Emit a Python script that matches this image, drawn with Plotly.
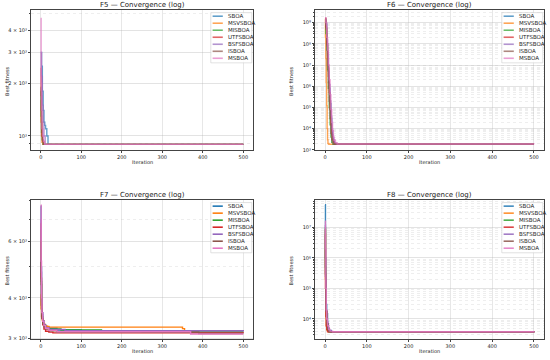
import plotly.graph_objects as go

# ---------------- data ----------------
names = ["SBOA", "MSVSBOA", "MISBOA", "UTFSBOA", "BSFSBOA", "ISBOA", "MSBOA"]
colors = ["#1f77b4", "#ff7f0e", "#2ca02c", "#d62728", "#9467bd", "#8c564b", "#e377c2"]
titles = ["F5 — Convergence (log)", "F6 — Convergence (log)",
          "F7 — Convergence (log)", "F8 — Convergence (log)"]

# F5 (step points: iteration, best fitness)
f5_sboa_it = [0, 2, 4, 6, 8, 10, 12, 15, 18, 500]
f5_sboa = [3000, 2500, 1800, 1400, 1200, 1150, 1100, 1000, 895, 895]
f5_msvsboa_it = [0, 1, 2, 3, 5, 500]
f5_msvsboa = [1600, 1200, 1000, 920, 895, 895]
f5_misboa_it = [0, 1, 2, 4, 6, 500]
f5_misboa = [1800, 1300, 1050, 950, 895, 895]
f5_utfsboa_it = [0, 1, 2, 3, 5, 8, 500]
f5_utfsboa = [2450, 1700, 1200, 1000, 930, 895, 895]
f5_bsfsboa_it = [0, 2, 4, 6, 8, 11, 500]
f5_bsfsboa = [3000, 2200, 1500, 1200, 1000, 895, 895]
f5_isboa_it = [0, 1, 2, 4, 6, 500]
f5_isboa = [1900, 1400, 1100, 950, 895, 895]
f5_msboa_it = [0, 1, 2, 3, 5, 7, 10, 500]
f5_msboa = [4700, 2000, 1400, 1100, 1000, 930, 895, 895]

# F6
f6_sboa_it = [0, 2, 4, 6, 8, 10, 12, 14, 16, 18, 20, 22, 25, 500]
f6_sboa = [1.2e9, 9e8, 1e8, 3e7, 5e6, 8e5, 1.5e5, 3e4, 8e3, 4e3, 2.5e3, 2e3, 1.85e3, 1.85e3]
f6_msvsboa_it = [0, 1, 2, 3, 4, 5, 6, 7, 9, 500]
f6_msvsboa = [1.5e9, 2e8, 2e7, 1.5e6, 1.2e5, 1e4, 3e3, 2e3, 1.85e3, 1.85e3]
f6_misboa_it = [0, 2, 4, 6, 8, 10, 12, 14, 16, 19, 500]
f6_misboa = [1.3e9, 3e8, 5e7, 6e6, 8e5, 1e5, 1.5e4, 4e3, 2.3e3, 1.85e3, 1.85e3]
f6_utfsboa_it = [0, 2, 4, 6, 8, 10, 12, 14, 16, 18, 21, 24, 500]
f6_utfsboa = [1.6e9, 6e8, 1e8, 2e7, 3e6, 5e5, 8e4, 1.5e4, 5e3, 3e3, 2.2e3, 1.85e3, 1.85e3]
f6_bsfsboa_it = [0, 2, 4, 6, 8, 10, 12, 14, 16, 18, 20, 23, 26, 500]
f6_bsfsboa = [1.4e9, 8e8, 1.5e8, 4e7, 7e6, 1.2e6, 2e5, 4e4, 1e4, 5e3, 3e3, 2.2e3, 1.85e3, 1.85e3]
f6_isboa_it = [0, 2, 4, 6, 8, 10, 12, 14, 16, 18, 20, 500]
f6_isboa = [1.5e9, 5e8, 8e7, 1e7, 1.5e6, 2e5, 3e4, 6e3, 3e3, 2.2e3, 1.85e3, 1.85e3]
f6_msboa_it = [0, 2, 4, 6, 8, 10, 12, 14, 16, 18, 20, 22, 25, 29, 500]
f6_msboa = [1.7e9, 1e9, 2e8, 5e7, 1e7, 2e6, 4e5, 8e4, 2e4, 8e3, 4e3, 2.8e3, 2.2e3, 1.9e3, 1.85e3]

# F7
f7_sboa_it = [0, 1, 2, 3, 5, 8, 12, 20, 40, 100, 500]
f7_sboa = [7700, 5000, 4000, 3600, 3400, 3300, 3250, 3220, 3180, 3160, 3150]
f7_msvsboa_it = [0, 1, 2, 4, 7, 10, 15, 20, 345, 350, 355, 500]
f7_msvsboa = [4100, 3700, 3500, 3400, 3320, 3280, 3260, 3245, 3245, 3210, 3165, 3165]
f7_misboa_it = [0, 1, 2, 3, 5, 8, 12, 20, 50, 150, 250, 500]
f7_misboa = [6500, 4500, 3800, 3500, 3350, 3280, 3230, 3200, 3180, 3150, 3130, 3130]
f7_utfsboa_it = [0, 1, 2, 3, 5, 8, 12, 20, 30, 500]
f7_utfsboa = [6800, 4600, 3800, 3450, 3300, 3200, 3150, 3130, 3115, 3110]
f7_bsfsboa_it = [0, 1, 2, 3, 5, 8, 12, 20, 60, 500]
f7_bsfsboa = [7000, 4800, 3900, 3550, 3380, 3290, 3230, 3190, 3160, 3150]
f7_isboa_it = [0, 1, 2, 3, 5, 8, 12, 20, 40, 390, 500]
f7_isboa = [6000, 4400, 3700, 3450, 3320, 3250, 3200, 3160, 3130, 3100, 3100]
f7_msboa_it = [0, 1, 2, 3, 5, 8, 12, 20, 40, 370, 500]
f7_msboa = [7760, 5200, 4000, 3600, 3380, 3280, 3220, 3170, 3140, 3090, 3090]

# F8
f8_sboa_it = [0, 1, 2, 3, 4, 6, 8, 10, 15, 500]
f8_sboa = [5.5e7, 1e6, 1e5, 3e4, 1.5e4, 7e3, 5e3, 4.2e3, 3.8e3, 3.7e3]
f8_msvsboa_it = [0, 1, 2, 3, 5, 8, 500]
f8_msvsboa = [8e6, 2e5, 2e4, 6e3, 4.2e3, 3.8e3, 3.7e3]
f8_misboa_it = [0, 1, 2, 3, 4, 6, 9, 500]
f8_misboa = [1e7, 5e5, 5e4, 1.2e4, 6e3, 4.3e3, 3.8e3, 3.7e3]
f8_utfsboa_it = [0, 1, 2, 3, 4, 6, 500]
f8_utfsboa = [6e6, 1e5, 1.2e4, 6e3, 4.5e3, 3.8e3, 3.7e3]
f8_bsfsboa_it = [0, 1, 2, 3, 4, 5, 7, 10, 14, 500]
f8_bsfsboa = [1.2e7, 2.5e5, 2e5, 1.8e4, 1.8e4, 8e3, 5e3, 4e3, 3.8e3, 3.7e3]
f8_isboa_it = [0, 1, 2, 3, 5, 7, 10, 500]
f8_isboa = [9e6, 3e5, 3e4, 1.8e4, 7e3, 4.5e3, 3.8e3, 3.7e3]
f8_msboa_it = [0, 1, 2, 3, 4, 6, 9, 12, 18, 500]
f8_msboa = [1.6e7, 2e6, 1e5, 2e4, 1e4, 6e3, 4.5e3, 4e3, 3.8e3, 3.7e3]

x_ticks = [0, 100, 200, 300, 400, 500]

f5_yticks = [1000, 2000, 3000, 4000]
f5_ytext = ["10³", "2 × 10³", "3 × 10³", "4 × 10³"]
f6_yticks = [1e3, 1e4, 1e5, 1e6, 1e7, 1e8, 1e9]
f6_ytext = ["10³", "10⁴", "10⁵", "10⁶", "10⁷", "10⁸", "10⁹"]
f7_yticks = [3000, 4000, 6000]
f7_ytext = ["3 × 10³", "4 × 10³", "6 × 10³"]
f8_yticks = [1e4, 1e5, 1e6, 1e7]
f8_ytext = ["10⁴", "10⁵", "10⁶", "10⁷"]

# ---------------- figure ----------------
W, H = 550, 360
FONT = "DejaVu Sans"


def px(x):
    return x / W


def py(y):
    return 1 - y / H


panels = [
    dict(data=[(f5_sboa_it, f5_sboa), (f5_msvsboa_it, f5_msvsboa), (f5_misboa_it, f5_misboa),
               (f5_utfsboa_it, f5_utfsboa), (f5_bsfsboa_it, f5_bsfsboa), (f5_isboa_it, f5_isboa),
               (f5_msboa_it, f5_msboa)],
         xpx=(31, 253), ypx=(10, 151), yr=(2.919, 3.72), tv=f5_yticks, tt=f5_ytext,
         minor=[900, 5000], op=0.7),
    dict(data=[(f6_sboa_it, f6_sboa), (f6_msvsboa_it, f6_msvsboa), (f6_misboa_it, f6_misboa),
               (f6_utfsboa_it, f6_utfsboa), (f6_bsfsboa_it, f6_bsfsboa), (f6_isboa_it, f6_isboa),
               (f6_msboa_it, f6_msboa)],
         xpx=(315, 544), ypx=(10, 151), yr=(2.986, 9.595), tv=f6_yticks, tt=f6_ytext,
         minor=[m * 10 ** e for e in range(3, 10) for m in range(2, 10)], op=0.7),
    dict(data=[(f7_sboa_it, f7_sboa), (f7_msvsboa_it, f7_msvsboa), (f7_misboa_it, f7_misboa),
               (f7_utfsboa_it, f7_utfsboa), (f7_bsfsboa_it, f7_bsfsboa), (f7_isboa_it, f7_isboa),
               (f7_msboa_it, f7_msboa)],
         xpx=(31, 253), ypx=(201, 341), yr=(3.474, 3.906), tv=f7_yticks, tt=f7_ytext,
         minor=[5000, 7000, 8000], op=1.0),
    dict(data=[(f8_sboa_it, f8_sboa), (f8_msvsboa_it, f8_msvsboa), (f8_misboa_it, f8_misboa),
               (f8_utfsboa_it, f8_utfsboa), (f8_bsfsboa_it, f8_bsfsboa), (f8_isboa_it, f8_isboa),
               (f8_msboa_it, f8_msboa)],
         xpx=(315, 544), ypx=(201, 341), yr=(3.34, 7.90), tv=f8_yticks, tt=f8_ytext,
         minor=[m * 10 ** e for e in range(3, 8) for m in range(2, 10)], op=0.85),
]

fig = go.Figure()
layout = dict(width=W, height=H, margin=dict(l=0, r=0, t=0, b=0),
              paper_bgcolor="white", plot_bgcolor="white", showlegend=False,
              font=dict(family=FONT, size=5, color="#222"))
shapes, annotations = [], []

for i, p in enumerate(panels):
    k = "" if i == 0 else str(i + 1)
    xa, ya = "x" + k, "y" + k
    for j, (it, val) in enumerate(p["data"]):
        fig.add_trace(go.Scatter(x=it, y=val, mode="lines", name=names[j], xaxis=xa, yaxis=ya,
                                 line=dict(color=colors[j], width=1.4, shape="hv"),
                                 opacity=p["op"], showlegend=False))
    x0, x1 = p["xpx"]
    y0, y1 = p["ypx"]
    common = dict(showline=True, linecolor="#444", linewidth=0.9, mirror=True,
                  ticks="outside", ticklen=2, tickwidth=0.6, tickcolor="#444",
                  tickfont=dict(family=FONT, size=5, color="#222"),
                  zeroline=False)
    layout["xaxis" + k] = dict(domain=[px(x0), px(x1)], anchor=ya, range=[-24, 524],
                               tickmode="array", tickvals=x_ticks,
                               showgrid=True, gridcolor="rgba(176,176,176,0.3)", gridwidth=0.6,
                               **common)
    layout["yaxis" + k] = dict(domain=[py(y1), py(y0)], anchor=xa, type="log",
                               range=list(p["yr"]), tickmode="array", tickvals=p["tv"],
                               ticktext=p["tt"], showgrid=True,
                               gridcolor="rgba(176,176,176,0.35)", gridwidth=0.6,
                               minor=dict(tickmode="array", tickvals=p["minor"], showgrid=True,
                                          gridcolor="rgba(176,176,176,0.22)", gridwidth=0.5,
                                          griddash="dot", ticks="outside", ticklen=1,
                                          tickcolor="#444"),
                               **common)
    cx = (x0 + x1) / 2
    annotations.append(dict(text=titles[i], x=px(cx), y=py(y0 - 4.5), xref="paper", yref="paper",
                            xanchor="center", yanchor="middle", showarrow=False,
                            font=dict(family=FONT, size=7, color="#222")))
    annotations.append(dict(text="Iteration", x=px(cx), y=py(y1 + 12), xref="paper", yref="paper",
                            xanchor="center", yanchor="middle", showarrow=False,
                            font=dict(family=FONT, size=5, color="#222")))
    annotations.append(dict(text="Best fitness", x=px(x0 - 24), y=py((y0 + y1) / 2 + 1),
                            xref="paper", yref="paper", xanchor="center", yanchor="middle",
                            textangle=-90, showarrow=False,
                            font=dict(family=FONT, size=5, color="#222")))
    bx1 = x1 - 1.2
    bx0 = bx1 - 41
    by0 = y0 + 2.7
    by1 = by0 + 50.5
    shapes.append(dict(type="rect", xref="paper", yref="paper", x0=px(bx0), x1=px(bx1),
                       y0=py(by1), y1=py(by0), fillcolor="rgba(255,255,255,0.85)",
                       line=dict(color="#cccccc", width=0.6), layer="above"))
    for j, nm in enumerate(names):
        ey = by0 + 3.6 + 7.05 * j
        shapes.append(dict(type="line", xref="paper", yref="paper", x0=px(bx0 + 1.8),
                           x1=px(bx0 + 12), y0=py(ey), y1=py(ey), layer="above",
                           line=dict(color=colors[j], width=1.6), opacity=p["op"]))
        annotations.append(dict(text=nm, x=px(bx0 + 15), y=py(ey), xref="paper", yref="paper",
                                xanchor="left", yanchor="middle", showarrow=False,
                                font=dict(family=FONT, size=5.5, color="#222")))

layout["shapes"] = shapes
layout["annotations"] = annotations
fig.update_layout(**layout)
fig.write_html("out.html", config={"displayModeBar": False},
               post_script="document.body.style.margin='0px';document.body.style.overflow='hidden';")
